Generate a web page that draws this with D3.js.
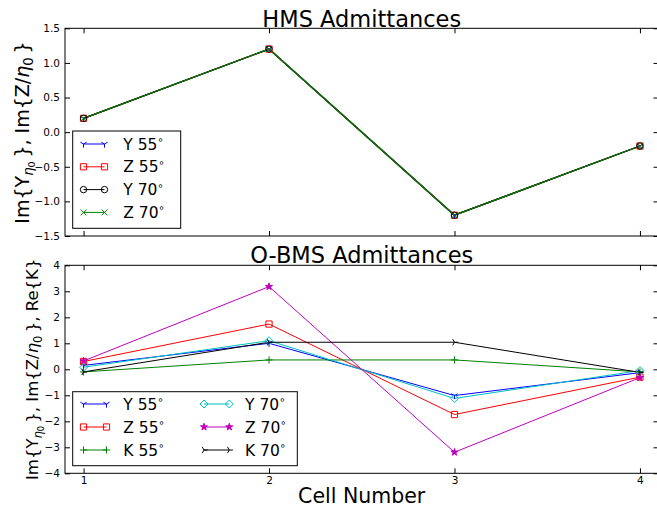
<!DOCTYPE html>
<html>
<head>
<meta charset="utf-8">
<script src="https://cdn.jsdelivr.net/npm/d3@7"></script>
<style>
  html, body { margin: 0; padding: 0; background: #fff; }
  svg { display: block; font-family: "DejaVu Sans", sans-serif; }
</style>
</head>
<body>
<svg id="chart" width="657" height="506"></svg>
<script>
// Cell indices along the x axis
const cells = [1, 2, 3, 4];
const xTickLabels = ["1", "2", "3", "4"];

// HMS admittances (Im part, normalised)
const hmsY55 = [0.2, 1.2, -1.2, -0.2];
const hmsZ55 = [0.2, 1.2, -1.2, -0.2];
const hmsY70 = [0.2, 1.2, -1.2, -0.2];
const hmsZ70 = [0.2, 1.2, -1.2, -0.2];
const hmsYTicks = [-1.5, -1.0, -0.5, 0.0, 0.5, 1.0, 1.5];

// O-BMS admittances
const obmsY55 = [0.15, 1.0, -1.01, -0.13];
const obmsZ55 = [0.3, 1.74, -1.74, -0.3];
const obmsK55 = [-0.1, 0.36, 0.36, -0.1];
const obmsY70 = [0.08, 1.1, -1.12, -0.05];
const obmsZ70 = [0.32, 3.18, -3.19, -0.32];
const obmsK70 = [-0.1, 1.04, 1.04, -0.12];
const obmsYTicks = [-4, -3, -2, -1, 0, 1, 2, 3, 4];

const svg = d3.select("#chart");

// Marker path builders (r = half size in px)
function markerPath(type, r) {
  const s = 0.8660254;
  switch (type) {
    case "tri_down":
      return `M0,0L0,${r}M0,0L${-s * r},${-0.5 * r}M0,0L${s * r},${-0.5 * r}`;
    case "tri_right":
      return `M0,0L${r},0M0,0L${-0.5 * r},${-s * r}M0,0L${-0.5 * r},${s * r}`;
    case "plus":
      return `M${-r},0L${r},0M0,${-r}L0,${r}`;
    case "x":
      return `M${-r},${-r}L${r},${r}M${-r},${r}L${r},${-r}`;
    case "square":
      return `M${-r},${-r}H${r}V${r}H${-r}Z`;
    case "circle":
      return `M${r},0A${r},${r} 0 1,1 ${-r},0A${r},${r} 0 1,1 ${r},0Z`;
    case "diamond":
      return `M0,${-r}L${r},0L0,${r}L${-r},0Z`;
    case "star": {
      let d = "";
      for (let i = 0; i < 10; i++) {
        const rr = i % 2 === 0 ? r : r * 0.381966;
        const a = -Math.PI / 2 + i * Math.PI / 5;
        d += (i === 0 ? "M" : "L") + (rr * Math.cos(a)).toFixed(2) + "," + (rr * Math.sin(a)).toFixed(2);
      }
      return d + "Z";
    }
  }
}

const markerStyle = {
  tri_down: { r: 3.6, fill: false },
  tri_right: { r: 3.6, fill: false },
  plus: { r: 3.6, fill: false },
  x: { r: 2.9, fill: false },
  square: { r: 3.1, fill: false },
  circle: { r: 3.2, fill: false },
  diamond: { r: 4.0, fill: false },
  star: { r: 3.7, fill: true }
};

function drawMarker(g, type, color, x, y) {
  const st = markerStyle[type];
  g.append("path")
    .attr("d", markerPath(type, st.r))
    .attr("transform", `translate(${x},${y})`)
    .attr("fill", st.fill ? color : "none")
    .attr("stroke", color)
    .attr("stroke-width", 1);
}

function degreeLabel(text, sel, fs) {
  sel.append("tspan").text(text);
  sel.append("tspan").text("\u2218").attr("font-size", fs * 0.65).attr("dy", -fs * 0.42);
}

const fmt1 = d3.format(".1f");

function panel(opts) {
  const { top, bottom, yDomain, yTicks, yFormat, series, title, titleY, showXLabels, lineWidth } = opts;
  const left = 65, right = 658.5;
  const x = d3.scaleLinear().domain([0.9, 4.1]).range([left, right]);
  const y = d3.scaleLinear().domain(yDomain).range([bottom, top]);
  const g = svg.append("g");

  // clip to the axes region
  const clipId = "clip" + Math.round(top);
  svg.append("clipPath").attr("id", clipId)
    .append("rect").attr("x", left).attr("y", top).attr("width", right - left).attr("height", bottom - top);

  const plot = g.append("g").attr("clip-path", `url(#${clipId})`);
  const line = d3.line().x((d, i) => x(cells[i])).y(d => y(d));

  series.forEach(s => {
    plot.append("path")
      .attr("d", line(s.values))
      .attr("fill", "none")
      .attr("stroke", s.color)
      .attr("stroke-width", lineWidth)
      .attr("stroke-linejoin", "round");
    const mg = g.append("g");
    s.values.forEach((v, i) => drawMarker(mg, s.marker, s.color, x(cells[i]), y(v)));
  });

  // Axes with inward ticks on all four sides
  const axStyle = a => {
    a.selectAll(".domain").remove();
    a.selectAll("line").attr("stroke", "#000").attr("stroke-width", 1);
    a.selectAll("text").attr("font-family", "DejaVu Sans").attr("font-size", 10.5).attr("fill", "#000");
  };
  g.append("g").attr("transform", `translate(${left},0)`)
    .call(d3.axisLeft(y).tickValues(yTicks).tickFormat(yFormat).tickSizeInner(-5).tickSizeOuter(0).tickPadding(5))
    .call(axStyle);
  g.append("g").attr("transform", `translate(${right},0)`)
    .call(d3.axisRight(y).tickValues(yTicks).tickFormat("").tickSizeInner(-5).tickSizeOuter(0))
    .call(axStyle);
  g.append("g").attr("transform", `translate(0,${bottom})`)
    .call(d3.axisBottom(x).tickValues(cells).tickFormat(showXLabels ? ((d, i) => xTickLabels[i]) : "").tickSizeInner(-5).tickSizeOuter(0).tickPadding(3.5))
    .call(axStyle);
  g.append("g").attr("transform", `translate(0,${top})`)
    .call(d3.axisTop(x).tickValues(cells).tickFormat("").tickSizeInner(-5).tickSizeOuter(0))
    .call(axStyle);

  g.append("rect")
    .attr("x", left).attr("y", top).attr("width", right - left).attr("height", bottom - top)
    .attr("fill", "none").attr("stroke", "#000").attr("stroke-width", 1);

  g.append("text")
    .attr("x", (left + right) / 2).attr("y", titleY)
    .attr("text-anchor", "middle").attr("font-size", 22.5)
    .text(title);

  return { x, y, g };
}

// ---- HMS panel ----
const hmsSeries = [
  { name: "Y 55", values: hmsY55, color: "#0000ff", marker: "tri_down" },
  { name: "Z 55", values: hmsZ55, color: "#ff0000", marker: "square" },
  { name: "Y 70", values: hmsY70, color: "#000000", marker: "circle" },
  { name: "Z 70", values: hmsZ70, color: "#008000", marker: "x" }
];
panel({
  top: 28.3, bottom: 236, yDomain: [-1.5, 1.5], yTicks: hmsYTicks, yFormat: fmt1,
  series: hmsSeries, title: "HMS Admittances", titleY: 26.5, showXLabels: false, lineWidth: 1.3
});

// ---- O-BMS panel ----
const obmsSeries = [
  { name: "Y 55", values: obmsY55, color: "#0000ff", marker: "tri_down" },
  { name: "Z 55", values: obmsZ55, color: "#ff0000", marker: "square" },
  { name: "K 55", values: obmsK55, color: "#008000", marker: "plus" },
  { name: "Y 70", values: obmsY70, color: "#00bfbf", marker: "diamond" },
  { name: "Z 70", values: obmsZ70, color: "#bf00bf", marker: "star" },
  { name: "K 70", values: obmsK70, color: "#000000", marker: "tri_right" }
];
panel({
  top: 265.3, bottom: 473.3, yDomain: [-4, 4], yTicks: obmsYTicks, yFormat: d3.format("d"),
  series: obmsSeries, title: "O-BMS Admittances", titleY: 263, showXLabels: true, lineWidth: 1
});

// ---- Legends ----
function legend(x0, y0, w, h, items, rows, colX, textX) {
  const lg = svg.append("g");
  lg.append("rect").attr("x", x0).attr("y", y0).attr("width", w).attr("height", h)
    .attr("fill", "#fff").attr("stroke", "#000").attr("stroke-width", 1);
  items.forEach((s, i) => {
    const col = Math.floor(i / rows.length);
    const ry = rows[i % rows.length];
    const [ax, bx] = colX[col];
    lg.append("line").attr("x1", ax).attr("x2", bx).attr("y1", ry).attr("y2", ry)
      .attr("stroke", s.color).attr("stroke-width", 1);
    drawMarker(lg, s.marker, s.color, ax, ry);
    drawMarker(lg, s.marker, s.color, bx, ry);
    const t = lg.append("text").attr("x", textX[col]).attr("y", ry + 5.5).attr("font-size", 15.5);
    degreeLabel(s.name, t, 15.5);
  });
}
legend(72.7, 131, 108, 97.3, hmsSeries, [144, 166.8, 189.6, 212.4], [[83.5, 104.5]], [123.3]);
legend(72.7, 391.7, 224.6, 74, obmsSeries, [404, 427, 450], [[83.5, 106.5], [204, 229.3]], [123.3, 245]);

// ---- Axis labels ----
function yLabel(cx, cy, fs, withK) {
  const t = svg.append("text")
    .attr("transform", `translate(${cx},${cy}) rotate(-90)`)
    .attr("text-anchor", "middle").attr("font-size", fs);
  t.append("tspan").text("Im{Y");
  t.append("tspan").text("\u03b7").attr("font-style", "italic").attr("font-size", fs * 0.7).attr("dy", fs * 0.22);
  t.append("tspan").text("0").attr("font-size", fs * 0.5).attr("dy", fs * 0.12);
  t.append("tspan").text("\u2009}, Im{Z/").attr("dy", -fs * 0.34);
  t.append("tspan").text("\u03b7").attr("font-style", "italic");
  t.append("tspan").text("0").attr("font-size", fs * 0.7).attr("dy", fs * 0.22);
  t.append("tspan").text("\u2009}" + (withK ? ", Re{K}" : "")).attr("dy", -fs * 0.22);
}
yLabel(29, 132.5, 19, false);
yLabel(38, 369.3, 16.5, true);

svg.append("text")
  .attr("x", 361.7).attr("y", 502.5)
  .attr("text-anchor", "middle").attr("font-size", 20.5)
  .text("Cell Number");
</script>
</body>
</html>
